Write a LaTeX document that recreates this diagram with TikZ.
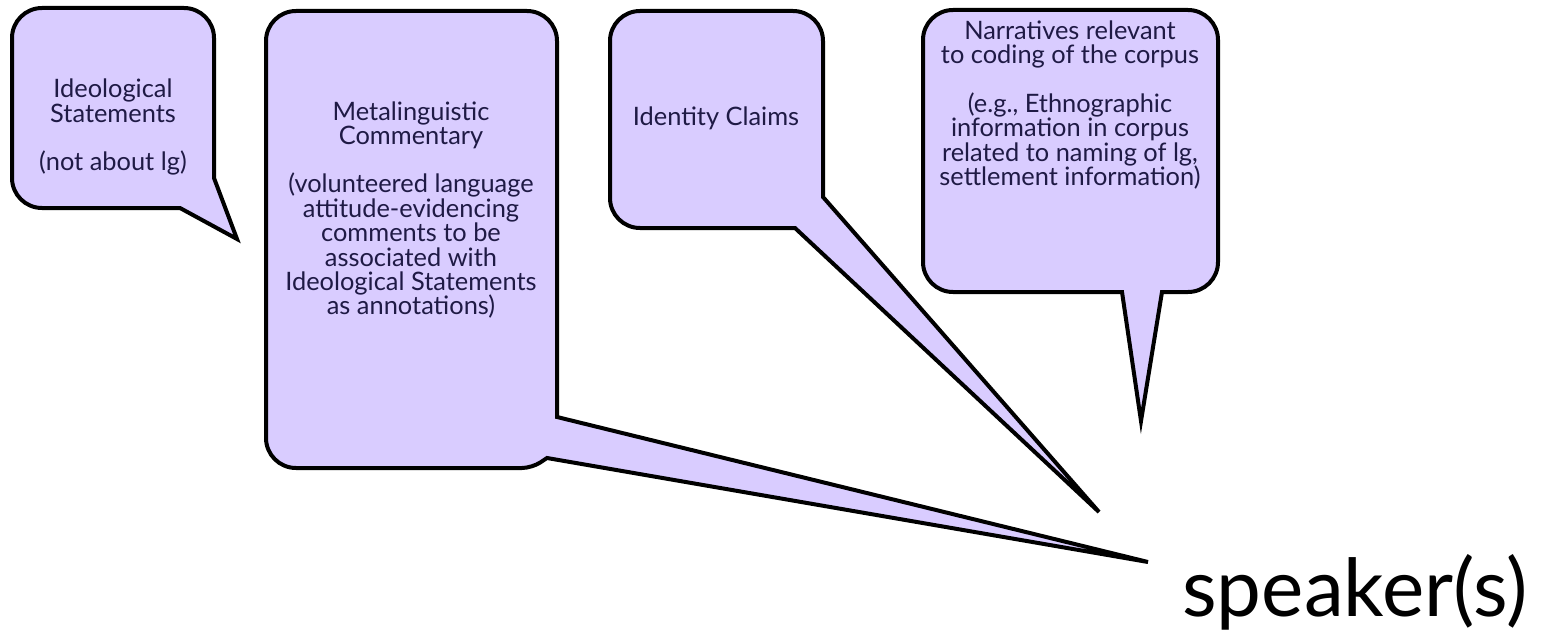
\documentclass[tikz,border=0pt]{standalone}
\usepackage{fontspec}
\setmainfont{Lato}
\definecolor{bubblefill}{HTML}{D9CCFF}
\definecolor{bubbletext}{HTML}{1F1A45}

\begin{document}
\begin{tikzpicture}[x=0.5pt,y=-0.5pt,
    bubble/.style={draw=black,fill=bubblefill,line width=2pt},
    txt/.style={text=bubbletext,font=\fontsize{12.7}{12.2}\selectfont,align=center}]
    \useasboundingbox (0,0) rectangle (1543,631);
    % bubbles
    \draw[bubble] (110,8) [rounded corners=15pt] -- (214,8) [sharp corners]
    -- (214,178) -- (237,239) -- (180,208) [rounded corners=15pt] --
    (12,208) -- (12,8) -- cycle;
    \draw[bubble] (410,11) [rounded corners=15pt] -- (557,11) [sharp corners]
    -- (557,417) -- (1148,562) -- (547,458) [rounded corners=5pt] --
    (532,468) [rounded corners=15pt] -- (266,468) -- (266,11) -- cycle;
    \draw[bubble] (716,11) [rounded corners=15pt] -- (823,11) [sharp corners]
    -- (823,197) -- (1099,512) -- (795,228) [rounded corners=15pt] --
    (610,228) -- (610,11) -- cycle;
    \draw[bubble] (1070,10) [rounded corners=15pt] -- (1218,10) --
    (1218,292) [sharp corners] -- (1162,292) -- (1141,421) -- (1122,292)
    [rounded corners=15pt] -- (923,292) -- (923,10) -- cycle;
    % texts
    \node[txt] (ideo) at (113,127) {Ideological\\Statements\\[12pt](not
      about lg)};
    \node[txt] (meta) at (411,210) {Metalinguistic\\Commentary\\[12pt](volunteered
      language\\attitude-evidencing\\comments to be\\associated
      with\\Ideological Statements\\as annotations)};
    \node[txt] (ident) at (716,118) {Identity Claims};
    \node[txt] (narr) at (1070,105) {Narratives relevant\\to coding of the
      corpus\\[12pt](e.g., Ethnographic\\information in corpus\\related to
      naming of lg,\\settlement information)};
    \node[font=\fontsize{40}{44}\selectfont] (spk) at (1355,592) {speaker(s)};
\end{tikzpicture}
\end{document}
